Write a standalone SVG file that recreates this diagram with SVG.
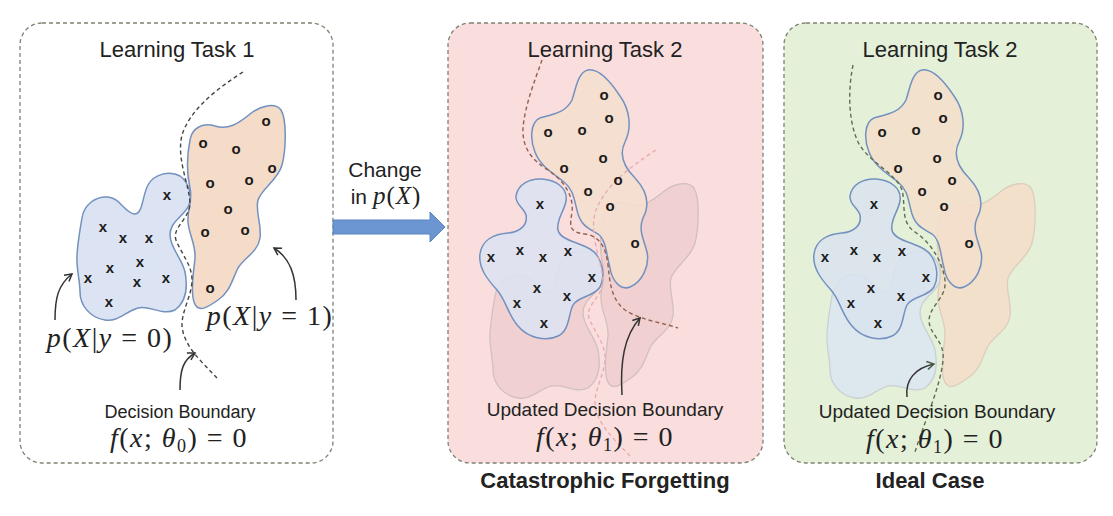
<svg xmlns="http://www.w3.org/2000/svg" xmlns:xlink="http://www.w3.org/1999/xlink" width="1113" height="516" viewBox="0 0 1113 516">
<style>
.frame{stroke:#7d8270;stroke-width:1.3;stroke-dasharray:4 3}
.t{font-family:"Liberation Sans",Arial,sans-serif;fill:#222}
.title{font-size:22px;text-anchor:middle}
.lbl{font-size:18px;text-anchor:middle}
.lbl2{font-size:19px;text-anchor:middle}
.bold{font-size:22px;font-weight:bold;text-anchor:middle}
.m{font-family:"Liberation Serif","Times New Roman",serif;fill:#222;font-size:28px;letter-spacing:1.5px;text-anchor:middle}
.i{font-style:italic}
.mk{font-family:"Liberation Sans",Arial,sans-serif;font-size:15px;font-weight:bold;fill:#1a1a1a;text-anchor:middle}
.bb{fill:#dce4f4;stroke:#7391bf;stroke-width:1.5}
.ob{fill:#f5dcc8;stroke:#7391bf;stroke-width:1.5}
.bd{fill:none;stroke-width:1.4;stroke-dasharray:4 3}
.ar{fill:none;stroke:#333;stroke-width:1.5}
</style>
<defs>
<marker id="ah" markerWidth="10" markerHeight="10" refX="8" refY="5" orient="auto" markerUnits="userSpaceOnUse">
<path d="M1,1 L8,5 L1,9" fill="none" stroke="#333" stroke-width="1.5"/>
</marker>
<marker id="ahg" markerWidth="10" markerHeight="10" refX="8" refY="5" orient="auto" markerUnits="userSpaceOnUse">
<path d="M1,1 L8,5 L1,9" fill="none" stroke="#4f6040" stroke-width="1.5"/>
</marker>
<path id="B1" d="M82,218 C84,205 95,196 108,197 C120,198 124,212 134,214 C143,215 142,196 148,185 C154,174 170,170 180,176 C190,183 194,200 186,210 C178,220 170,224 170,235 C170,248 182,258 185,272 C188,288 186,302 175,310 C162,316 150,305 138,308 C125,312 118,322 105,320 C90,318 80,305 80,292 C80,280 76,268 77,255 C78,240 80,230 82,218 Z"/>
<path id="O1" d="M190,140 C192,128 203,122 215,126 C228,130 238,124 250,114 C260,106 275,102 281,110 C287,120 286,150 282,165 C278,180 262,188 258,200 C255,212 262,225 260,238 C258,252 244,258 238,268 C232,280 230,292 218,300 C208,307 198,314 194,302 C190,290 194,270 195,258 C196,245 189,235 188,222 C187,210 193,200 190,188 C187,175 186,160 190,140 Z"/>
<path id="B2" d="M516,196 C518,184 530,178 542,179 C556,180 568,188 566,201 C564,212 556,220 558,230 C560,240 578,242 590,249 C602,256 606,275 600,287 C594,297 578,296 573,305 C568,315 570,330 558,336 C546,342 528,338 518,326 C508,315 506,300 497,290 C488,280 478,268 480,254 C482,240 494,234 508,233 C520,232 528,225 526,215 C524,208 515,204 516,196 Z"/>
<path id="O2" d="M540,118 C555,114 566,112 572,100 C576,88 578,72 588,70 C600,68 612,84 620,96 C630,110 632,128 625,142 C618,156 625,168 635,178 C648,192 650,205 643,218 C638,230 644,240 647,252 C650,266 642,282 630,287 C620,291 612,280 610,268 C606,252 606,240 598,234 C588,228 582,226 578,214 C574,200 574,190 564,182 C554,174 540,166 535,152 C530,140 530,122 540,118 Z"/>
<path id="D1" d="M243,72 C215,90 190,110 182,135 C176,160 190,185 190,205 C188,220 172,228 176,240 C182,255 192,265 192,280 C192,295 182,310 182,325 C183,345 200,360 217,378"/>
</defs>

<g id="panel1">
<rect x="20" y="23" width="313" height="440" rx="22" fill="#ffffff" class="frame"/>
<text class="t title" x="177" y="57">Learning Task 1</text>
<use xlink:href="#B1" class="bb"/>
<use xlink:href="#O1" class="ob"/>
<use xlink:href="#D1" class="bd" stroke="#444"/>
<g class="mk">
<text x="167" y="200">x</text><text x="103" y="232">x</text><text x="123" y="243">x</text><text x="149" y="243">x</text><text x="140" y="267">x</text><text x="110" y="273">x</text><text x="88" y="283">x</text><text x="137" y="287">x</text><text x="166" y="283">x</text><text x="109" y="307">x</text>
<text x="266" y="126">o</text><text x="203" y="148">o</text><text x="236" y="154">o</text><text x="272" y="173">o</text><text x="210" y="188">o</text><text x="249" y="185">o</text><text x="228" y="214">o</text><text x="205" y="237">o</text><text x="245" y="235">o</text><text x="210" y="293">o</text>
</g>
<text class="m" x="110" y="347"><tspan class="i">p</tspan>(<tspan class="i">X</tspan>|<tspan class="i">y</tspan> = 0)</text>
<text class="m" x="270" y="325"><tspan class="i">p</tspan>(<tspan class="i">X</tspan>|<tspan class="i">y</tspan> = 1)</text>
<text class="t lbl" x="180" y="418">Decision Boundary</text>
<text class="m" x="179" y="447"><tspan class="i">f</tspan>(<tspan class="i">x</tspan>; <tspan class="i">θ</tspan><tspan font-size="18" dy="5">0</tspan><tspan dy="-5">) = 0</tspan></text>
</g>

<g id="panel2">
<rect x="448" y="23" width="315" height="440" rx="22" fill="#fadede" class="frame"/>
<text class="t title" x="605" y="57">Learning Task 2</text>
<g transform="translate(413,78)">
<use xlink:href="#B1" fill="#f0d0d0" stroke="#d2c0c0" stroke-width="1.3"/>
<use xlink:href="#O1" fill="#f0d0d0" stroke="#d2c0c0" stroke-width="1.3"/>
</g>
<use xlink:href="#B2" class="bb" fill-opacity="0.9" style="fill:#dde3f1"/>
<use xlink:href="#O2" class="ob" fill-opacity="0.9" style="fill:#f4dfcf"/>
<use xlink:href="#D1" transform="translate(413,78)" class="bd" stroke="#e8acac"/>
<path class="bd" stroke="#93604c" d="M542,60 C535,80 525,105 523,128 C522,148 532,160 548,170 C563,180 574,195 572,212 C570,226 568,232 585,234 C600,236 606,248 608,265 C610,285 612,300 625,310 C640,320 660,322 678,328"/>
<g class="mk">
<text x="540" y="209">x</text><text x="491" y="262">x</text><text x="520" y="255">x</text><text x="543" y="262">x</text><text x="568" y="256">x</text><text x="592" y="282">x</text><text x="537" y="293">x</text><text x="567" y="301">x</text><text x="517" y="308">x</text><text x="544" y="328">x</text>
<text x="604" y="100">o</text><text x="609" y="123">o</text><text x="548" y="137">o</text><text x="582" y="135">o</text><text x="603" y="163">o</text><text x="564" y="173">o</text><text x="618" y="185">o</text><text x="588" y="196">o</text><text x="610" y="211">o</text><text x="635" y="248">o</text>
</g>
<path class="ar" marker-end="url(#ah)" d="M622,395 C620,362 624,336 640,318"/>
<text class="t lbl2" x="605" y="416">Updated Decision Boundary</text>
<text class="m" x="605" y="446"><tspan class="i">f</tspan>(<tspan class="i">x</tspan>; <tspan class="i">θ</tspan><tspan font-size="18" dy="5">1</tspan><tspan dy="-5">) = 0</tspan></text>
<text class="t bold" x="605" y="488">Catastrophic Forgetting</text>
</g>

<g id="panel3">
<rect x="784" y="23" width="313" height="440" rx="22" fill="#e4f0d8" class="frame"/>
<text class="t title" x="940" y="57">Learning Task 2</text>
<g transform="translate(750,78)">
<use xlink:href="#B1" fill="#dde7ee" stroke="#c9d0d4" stroke-width="1.3"/>
<use xlink:href="#O1" fill="#f2e0cb" stroke="#dccdbd" stroke-width="1.3"/>
</g>
<g transform="translate(334,0)">
<use xlink:href="#B2" class="bb" fill-opacity="0.85" style="fill:#d9e3ef"/>
<use xlink:href="#O2" class="ob" fill-opacity="0.9" style="fill:#f3dfcc"/>
</g>
<path class="bd" stroke="#5e6e50" d="M853,65 C848,90 848,120 858,142 C868,162 895,172 902,190 C906,205 900,222 915,232 C930,242 942,260 945,280 C947,298 930,305 929,320 C929,335 945,340 943,360 C941,385 925,420 915,452"/>
<g class="mk">
<text x="874" y="209">x</text><text x="825" y="262">x</text><text x="854" y="255">x</text><text x="877" y="262">x</text><text x="902" y="256">x</text><text x="926" y="282">x</text><text x="871" y="293">x</text><text x="901" y="301">x</text><text x="851" y="308">x</text><text x="878" y="328">x</text>
<text x="938" y="100">o</text><text x="943" y="123">o</text><text x="882" y="137">o</text><text x="916" y="135">o</text><text x="937" y="163">o</text><text x="898" y="173">o</text><text x="952" y="185">o</text><text x="922" y="196">o</text><text x="944" y="211">o</text><text x="969" y="248">o</text>
</g>
<path class="ar" stroke="#4f6040" marker-end="url(#ahg)" d="M907,397 C905,380 915,368 934,364"/>
<text class="t lbl2" x="937" y="418">Updated Decision Boundary</text>
<text class="m" x="935" y="448"><tspan class="i">f</tspan>(<tspan class="i">x</tspan>; <tspan class="i">θ</tspan><tspan font-size="18" dy="5">1</tspan><tspan dy="-5">) = 0</tspan></text>
<text class="t bold" x="930" y="488">Ideal Case</text>
</g>

<g id="connectors">
<path class="ar" marker-end="url(#ah)" d="M55,320 C55,298 58,285 72,274"/>
<path class="ar" marker-end="url(#ah)" d="M296,300 C296,275 290,258 274,248"/>
<path class="ar" marker-end="url(#ah)" d="M180,390 C180,370 183,360 195,353"/>
<polygon points="333,220 430,220 430,212 445,227 430,242 430,234 333,234" fill="#6b96d2" stroke="#5a84c0" stroke-width="1"/>
<text class="t" x="385" y="177" font-size="21" text-anchor="middle">Change</text>
<text x="386" y="204" text-anchor="middle"><tspan class="t" font-size="21">in </tspan><tspan font-family="Liberation Serif, serif" font-size="25" fill="#222" letter-spacing="1"><tspan class="i">p</tspan>(<tspan class="i">X</tspan>)</tspan></text>
</g>
</svg>
